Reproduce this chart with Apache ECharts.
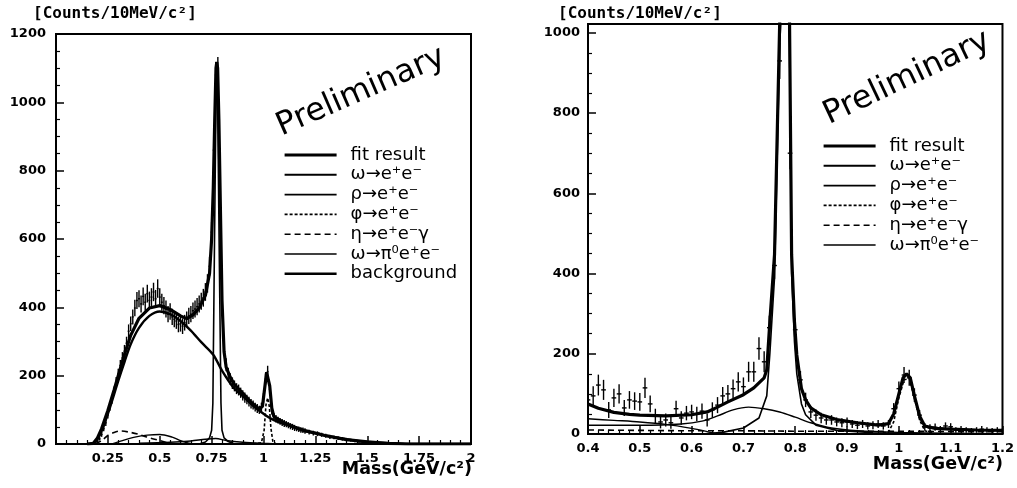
<!DOCTYPE html>
<html>
<head>
<meta charset="utf-8">
<script src="https://cdn.jsdelivr.net/npm/echarts@6/dist/echarts.min.js"></script>
<style>
  html, body { margin: 0; padding: 0; background: #fff; }
  #chart { width: 1017px; height: 488px; }
</style>
</head>
<body>
<div id="chart"></div>
<script>
// ---------- Left panel: full mass range 0 - 2 GeV/c^2 ----------
// measured spectrum: [mass, counts, error]
const dataL = [
  [0.20,8,4],[0.21,15,5],[0.22,28,7],[0.23,45,8],[0.24,62,9],[0.25,85,10],[0.26,108,11],[0.27,130,12],
  [0.28,155,13],[0.29,182,14],[0.30,205,15],[0.31,230,16],[0.32,252,17],[0.33,272,18],[0.34,295,19],
  [0.35,330,20],[0.36,352,21],[0.37,372,22],[0.38,398,24],[0.39,420,25],[0.40,425,25],[0.41,410,25],
  [0.42,432,26],[0.43,415,25],[0.44,440,26],[0.45,420,26],[0.46,430,26],[0.47,445,27],[0.48,425,26],
  [0.49,455,27],[0.50,430,26],[0.51,415,25],[0.52,405,25],[0.53,395,25],[0.54,380,24],[0.55,388,24],
  [0.56,372,24],[0.57,365,23],[0.58,360,23],[0.59,350,23],[0.60,352,23],[0.61,345,23],[0.62,355,23],
  [0.63,365,23],[0.64,375,24],[0.65,380,24],[0.66,390,24],[0.67,395,25],[0.68,402,25],[0.69,410,25],
  [0.70,418,25],[0.71,428,26],[0.72,445,26],[0.73,470,27],[0.74,520,28],[0.75,620,30],[0.76,860,35],
  [0.77,1080,38],[0.78,1095,38],[0.79,780,34],[0.80,440,27],[0.81,285,22],[0.82,232,19],[0.83,205,18],
  [0.84,190,17],[0.85,178,17],[0.86,170,16],[0.87,162,16],[0.88,158,16],[0.89,150,15],[0.90,142,15],
  [0.91,136,15],[0.92,130,14],[0.93,124,14],[0.94,118,14],[0.95,114,13],[0.96,108,13],[0.97,104,13],
  [0.98,100,12],[0.99,108,13],[1.00,135,14],[1.01,190,16],[1.02,212,17],[1.03,160,15],[1.04,98,12],
  [1.05,80,11],[1.06,74,11],[1.07,70,10],[1.08,66,10],[1.09,63,10],[1.10,60,10],[1.11,58,9],[1.12,55,9],
  [1.13,52,9],[1.14,50,9],[1.15,47,9],[1.16,45,8],[1.17,43,8],[1.18,41,8],[1.19,40,8],[1.20,38,8],
  [1.22,35,7],[1.24,32,7],[1.26,30,7],[1.28,27,6],[1.30,24,6],[1.32,21,6],[1.34,19,5],[1.36,17,5],
  [1.38,15,5],[1.40,13,5],[1.42,11,4],[1.44,9,4],[1.46,8,4],[1.48,7,3],[1.50,5,3]
];
const fitL = [
  [0.15,0],[0.18,2],[0.20,18],[0.22,45],[0.25,98],[0.28,158],[0.30,200],[0.33,262],[0.36,318],[0.40,368],
  [0.45,398],[0.50,405],[0.55,394],[0.60,375],[0.63,367],[0.66,378],[0.69,398],[0.72,435],[0.74,500],
  [0.75,600],[0.758,750],[0.765,950],[0.771,1100],[0.775,1118],[0.779,1100],[0.785,950],[0.792,700],
  [0.80,420],[0.81,270],[0.82,225],[0.84,195],[0.86,174],[0.90,148],[0.94,122],[0.98,102],[0.995,110],
  [1.005,160],[1.015,210],[1.022,215],[1.03,170],[1.04,105],[1.05,80],[1.10,62],[1.15,49],[1.20,39],
  [1.30,24],[1.40,13],[1.50,6],[1.60,2],[1.70,0],[2.0,0]
];
const omegaL = [
  [0.69,0],[0.72,6],[0.74,18],[0.75,40],[0.756,120],[0.764,600],[0.771,1000],[0.775,1095],[0.779,1000],
  [0.786,600],[0.795,120],[0.80,40],[0.81,18],[0.83,7],[0.86,0]
];
const rhoL = [
  [0.40,2],[0.55,5],[0.65,9],[0.72,14],[0.77,16],[0.82,10],[0.90,5],[1.00,2],[1.10,0]
];
const phiL = [
  [0.95,0],[0.99,4],[1.003,40],[1.012,115],[1.02,135],[1.028,110],[1.036,45],[1.045,8],[1.06,0]
];
const etaL = [
  [0.19,0],[0.22,10],[0.25,25],[0.28,34],[0.31,38],[0.35,35],[0.40,28],[0.44,20],[0.50,10],[0.54,3],[0.56,0]
];
const pi0L = [
  [0.27,0],[0.32,10],[0.38,20],[0.44,26],[0.50,28],[0.56,20],[0.60,10],[0.64,2],[0.66,0]
];
const bkgL = [
  [0.15,0],[0.18,1],[0.20,14],[0.22,38],[0.25,88],[0.28,145],[0.30,185],[0.33,240],[0.36,292],[0.40,340],
  [0.45,375],[0.50,388],[0.55,380],[0.60,360],[0.65,332],[0.70,298],[0.757,262],[0.80,215],[0.853,167],
  [0.90,140],[0.95,112],[1.015,82],[1.05,70],[1.10,58],[1.14,50],[1.20,38],[1.26,31],[1.30,25],[1.42,12],
  [1.50,6],[1.60,2],[1.70,0],[2.0,0]
];

// ---------- Right panel: 0.4 - 1.2 GeV/c^2 ----------
const dataR = [
  [0.40,85,22],[0.41,95,24],[0.42,122,26],[0.43,110,25],[0.44,60,20],[0.45,90,23],[0.46,100,24],
  [0.47,65,20],[0.48,85,22],[0.49,82,22],[0.50,80,22],[0.51,115,25],[0.52,75,21],[0.53,45,18],
  [0.54,30,16],[0.55,35,16],[0.56,28,15],[0.57,63,20],[0.58,40,17],[0.59,52,18],[0.60,55,18],
  [0.61,50,18],[0.62,57,19],[0.63,35,16],[0.64,60,19],[0.65,72,20],[0.66,95,22],[0.67,100,22],
  [0.68,113,23],[0.69,130,24],[0.70,118,23],[0.71,155,25],[0.72,155,25],[0.73,213,28],[0.74,180,26],
  [0.75,265,30],[0.76,420,34],[0.77,930,45],[0.78,1150,48],[0.79,700,40],[0.80,260,28],[0.81,135,22],
  [0.82,85,18],[0.83,55,15],[0.84,47,14],[0.85,40,13],[0.86,35,12],[0.87,35,12],[0.88,30,11],
  [0.89,28,11],[0.90,30,11],[0.91,25,10],[0.92,22,10],[0.93,25,10],[0.94,20,9],[0.95,22,10],
  [0.96,25,10],[0.97,20,9],[0.98,25,10],[0.99,63,14],[1.00,113,18],[1.01,147,20],[1.02,140,20],
  [1.03,97,17],[1.04,47,13],[1.05,18,9],[1.06,15,9],[1.07,17,9],[1.08,12,8],[1.09,20,9],[1.10,18,9],
  [1.11,10,7],[1.12,12,8],[1.13,10,7],[1.14,8,7],[1.15,10,7],[1.16,12,8],[1.17,10,7],[1.18,8,7],
  [1.19,10,7],[1.20,8,7]
];
const fitR = [
  [0.40,75],[0.42,64],[0.45,54],[0.48,49],[0.50,47],[0.55,45],[0.60,48],[0.63,55],[0.65,67],[0.67,80],
  [0.70,98],[0.72,115],[0.74,140],[0.745,160],[0.751,280],[0.76,447],[0.77,1025],[0.78,1300],[0.789,1025],
  [0.793,447],[0.7985,280],[0.803,197],[0.812,113],[0.82,85],[0.83,65],[0.85,48],[0.88,36],[0.92,28],
  [0.96,22],[0.98,26],[0.99,50],[1.00,100],[1.008,140],[1.015,150],[1.022,140],[1.03,95],[1.04,45],
  [1.05,20],[1.07,14],[1.10,12],[1.15,10],[1.20,9]
];
const omegaR = [
  [0.62,0],[0.66,4],[0.70,15],[0.73,40],[0.745,95],[0.751,200],[0.76,390],[0.77,970],[0.78,1250],
  [0.789,975],[0.793,400],[0.7985,230],[0.803,150],[0.812,75],[0.82,48],[0.84,22],[0.88,9],[0.95,3],
  [1.05,0],[1.20,0]
];
const rhoR = [
  [0.40,22],[0.50,22],[0.58,25],[0.62,32],[0.65,45],[0.68,60],[0.71,67],[0.74,63],[0.77,55],[0.80,42],
  [0.83,28],[0.87,15],[0.92,8],[1.00,4],[1.10,2],[1.20,1]
];
const phiR = [
  [0.40,0],[0.96,0],[0.98,5],[0.99,30],[1.00,90],[1.01,135],[1.02,138],[1.03,90],[1.04,35],[1.05,8],
  [1.07,0],[1.20,0]
];
const etaR = [
  [0.40,10],[0.50,9],[0.60,8],[0.70,8],[0.80,7],[0.90,7],[1.00,7],[1.10,6],[1.20,6]
];
const pi0R = [
  [0.40,38],[0.45,34],[0.50,30],[0.55,24],[0.60,14],[0.63,6],[0.65,0]
];

// axis tick labels
const yTicksL = [0, 200, 400, 600, 800, 1000, 1200];
const xTicksL = [0.25, 0.5, 0.75, 1, 1.25, 1.5, 1.75, 2];
const yTicksR = [0, 200, 400, 600, 800, 1000];
const xTicksR = [0.4, 0.5, 0.6, 0.7, 0.8, 0.9, 1, 1.1, 1.2];

// legend labels
const NAMES = {
  fit: 'fit result',
  omega: 'ω→e⁺e⁻',
  rho: 'ρ→e⁺e⁻',
  phi: 'φ→e⁺e⁻',
  eta: 'η→e⁺e⁻γ',
  pi0: 'ω→π⁰e⁺e⁻',
  bkg: 'background'
};
const legendL = [NAMES.fit, NAMES.omega, NAMES.rho, NAMES.phi, NAMES.eta, NAMES.pi0, NAMES.bkg];
const legendR = [NAMES.fit, NAMES.omega, NAMES.rho, NAMES.phi, NAMES.eta, NAMES.pi0];

const INK = '#000';
const SANS = 'DejaVu Sans';

// line style of each component, shared by curves and legend samples
const STYLE = {
  [NAMES.fit]:   { width: 3.2, type: 'solid' },
  [NAMES.omega]: { width: 2.0, type: 'solid' },
  [NAMES.rho]:   { width: 1.6, type: 'solid' },
  [NAMES.phi]:   { width: 1.6, type: [3, 2] },
  [NAMES.eta]:   { width: 1.6, type: [6, 4] },
  [NAMES.pi0]:   { width: 1.6, type: 'solid' },
  [NAMES.bkg]:   { width: 2.4, type: 'solid' }
};

function errorBars(params, api) {
  const x = api.value(0), y = api.value(1), e = api.value(2);
  const c = api.coord([x, y]);
  const t = api.coord([x, y + e]);
  const b = api.coord([x, Math.max(0, y - e)]);
  const hw = api.size([0.01, 0])[0] * 0.45;
  const st = { stroke: INK, lineWidth: 1.4 };
  return {
    type: 'group',
    children: [
      { type: 'line', shape: { x1: c[0], y1: t[1], x2: c[0], y2: b[1] }, style: st },
      { type: 'line', shape: { x1: c[0] - hw, y1: c[1], x2: c[0] + hw, y2: c[1] }, style: st }
    ]
  };
}

function curve(name, data, idx, smooth, widthScale) {
  const s = STYLE[name];
  return {
    type: 'line', name, data, xAxisIndex: idx, yAxisIndex: idx,
    symbol: 'none', smooth: smooth || false, clip: true, z: 3,
    lineStyle: { color: INK, width: s.width * (widthScale || 1), type: s.type },
    itemStyle: { color: INK }
  };
}

function points(data, idx) {
  return {
    type: 'custom', data, xAxisIndex: idx, yAxisIndex: idx, clip: true, z: 2,
    renderItem: errorBars, encode: { x: 0, y: 1 }
  };
}

function valueAxis(opts) {
  return Object.assign({
    type: 'value',
    splitLine: { show: false },
    axisLine: { show: true, onZero: false, lineStyle: { color: INK, width: 2 } },
    axisTick: { show: true, inside: true, length: 8, lineStyle: { color: INK, width: 1.5 } },
    axisLabel: { color: INK, fontFamily: SANS, fontWeight: 'bold', fontSize: 13 }
  }, opts);
}

function legend(names, left, top) {
  return {
    data: names.map(n => ({
      name: n,
      lineStyle: { color: INK, width: STYLE[n].width, type: STYLE[n].type }
    })),
    orient: 'vertical', left, top, padding: 0,
    itemWidth: 52, itemHeight: 10, itemGap: 1.8, selectedMode: false,
    // line samples only, no point marker
    itemStyle: { opacity: 0 },
    textStyle: { color: INK, fontFamily: SANS, fontSize: 18, lineHeight: 17, padding: [0, 0, 0, 9] }
  };
}

const minor = n => ({ show: true, splitNumber: n, length: 4, lineStyle: { color: INK, width: 1.2 } });
const label = (margin, fmt, extra) => Object.assign(
  { color: INK, fontFamily: SANS, fontWeight: 'bold', fontSize: 13, margin, formatter: fmt }, extra || {});

const chart = echarts.init(document.getElementById('chart'), null, { renderer: 'canvas' });
chart.setOption({
  animation: false,
  backgroundColor: '#fff',
  title: [
    { text: '[Counts/10MeV/c²]', left: 33, top: 6, padding: 0,
      textStyle: { fontFamily: 'DejaVu Sans Mono', fontWeight: 'bold', fontSize: 16, color: INK } },
    { text: '[Counts/10MeV/c²]', left: 558, top: 6, padding: 0,
      textStyle: { fontFamily: 'DejaVu Sans Mono', fontWeight: 'bold', fontSize: 16, color: INK } },
    { text: 'Mass(GeV/c²)', right: 545, top: 460, padding: 0,
      textStyle: { fontFamily: SANS, fontWeight: 'bold', fontSize: 17.5, color: INK } },
    { text: 'Mass(GeV/c²)', right: 14, top: 455, padding: 0,
      textStyle: { fontFamily: SANS, fontWeight: 'bold', fontSize: 17.5, color: INK } }
  ],
  legend: [legend(legendL, 283, 146), legend(legendR, 822, 137)],
  grid: [
    { left: 56, right: 546, top: 34, bottom: 44, show: true, borderColor: INK, borderWidth: 2, backgroundColor: 'transparent' },
    { left: 588, right: 14, top: 24, bottom: 54, show: true, borderColor: INK, borderWidth: 2, backgroundColor: 'transparent' }
  ],
  xAxis: [
    valueAxis({ gridIndex: 0, min: 0, max: 2, interval: 0.25, minorTick: minor(5),
      axisLabel: label(8, v => xTicksL.includes(+v.toFixed(2)) ? String(+v.toFixed(2)) : '') }),
    valueAxis({ gridIndex: 1, min: 0.4, max: 1.2, interval: 0.1, minorTick: minor(5),
      axisLabel: label(8, v => xTicksR.includes(+v.toFixed(1)) ? String(+v.toFixed(1)) : '') })
  ],
  yAxis: [
    valueAxis({ gridIndex: 0, min: 0, max: 1200, interval: 200, minorTick: minor(4),
      axisLabel: label(10, v => yTicksL.includes(v) ? String(v) : '') }),
    valueAxis({ gridIndex: 1, min: 0, max: 1022, interval: 200, minorTick: minor(4),
      axisLabel: label(8, v => yTicksR.includes(v) ? String(v) : '', { showMaxLabel: false }) })
  ],
  graphic: [
    { type: 'text', x: 361, y: 92, rotation: 23.6 * Math.PI / 180, z: 10,
      style: { text: 'Preliminary', font: '32px "DejaVu Sans"', fill: INK, align: 'center', verticalAlign: 'middle' } },
    { type: 'text', x: 907, y: 78, rotation: 25.4 * Math.PI / 180, z: 10,
      style: { text: 'Preliminary', font: '32px "DejaVu Sans"', fill: INK, align: 'center', verticalAlign: 'middle' } }
  ],
  series: [
    points(dataL, 0),
    curve(NAMES.fit, fitL, 0),
    curve(NAMES.omega, omegaL, 0, false, 0.8),
    curve(NAMES.rho, rhoL, 0, 0.3, 0.9),
    curve(NAMES.phi, phiL, 0),
    curve(NAMES.eta, etaL, 0, 0.3),
    curve(NAMES.pi0, pi0L, 0, 0.3, 0.9),
    curve(NAMES.bkg, bkgL, 0, 0.3),

    points(dataR, 1),
    curve(NAMES.fit, fitR, 1),
    curve(NAMES.omega, omegaR, 1, false, 0.8),
    curve(NAMES.rho, rhoR, 1, 0.3, 0.9),
    curve(NAMES.phi, phiR, 1),
    curve(NAMES.eta, etaR, 1),
    curve(NAMES.pi0, pi0R, 1, 0.3, 0.9)
  ]
});
</script>
</body>
</html>
